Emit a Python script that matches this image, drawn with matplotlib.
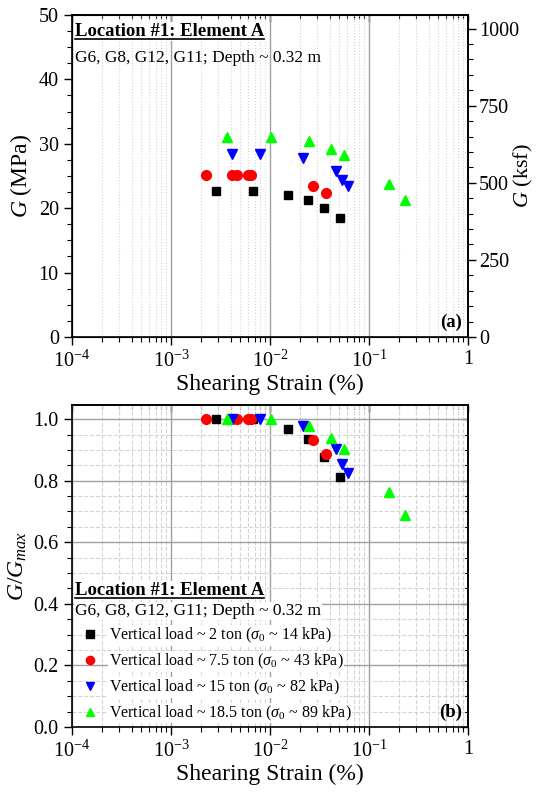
#!/usr/bin/env python3
import matplotlib
matplotlib.use("Agg")
import matplotlib.pyplot as plt
import matplotlib.ticker as mticker
import numpy as np

plt.rcParams["font.family"] = ["Liberation Serif", "DejaVu Serif"]
plt.rcParams["mathtext.fontset"] = "custom"
plt.rcParams["mathtext.rm"] = "Liberation Serif"
plt.rcParams["mathtext.it"] = "Liberation Serif:italic"
plt.rcParams["mathtext.bf"] = "Liberation Serif:bold"

# ---- data ----
strain_2 = [0.00283, 0.00668, 0.0153, 0.0244, 0.0354, 0.0506]
g_2 = [22.7, 22.7, 22.0, 21.3, 20.0, 18.4]
ratio_2 = [1.0, 1.0, 0.967, 0.936, 0.877, 0.811]

strain_7 = [0.00226, 0.0041, 0.00461, 0.0060, 0.00638, 0.0273, 0.0368]
g_7 = [25.2, 25.2, 25.2, 25.2, 25.2, 23.5, 22.3]
ratio_7 = [1.0, 1.0, 1.0, 1.0, 1.0, 0.933, 0.888]

strain_15 = [0.0041, 0.0079, 0.0214, 0.0461, 0.0537, 0.0609]
g_15 = [28.4, 28.4, 27.8, 25.8, 24.4, 23.4]
ratio_15 = [1.0, 1.0, 0.978, 0.902, 0.855, 0.824]

strain_18 = [0.00368, 0.0102, 0.0248, 0.0413, 0.0559, 0.160, 0.231]
g_18 = [31.1, 31.1, 30.4, 29.2, 28.2, 23.7, 21.3]
ratio_18 = [1.0, 1.0, 0.978, 0.940, 0.903, 0.764, 0.687]

labels = [
    r"Vertical load ~ 2 ton ($\sigma_0$ ~ 14 kPa)",
    r"Vertical load ~ 7.5 ton ($\sigma_0$ ~ 43 kPa)",
    r"Vertical load ~ 15 ton ($\sigma_0$ ~ 82 kPa)",
    r"Vertical load ~ 18.5 ton ($\sigma_0$ ~ 89 kPa)",
]
xtick_vals = [1e-4, 1e-3, 1e-2, 1e-1, 1]
xtick_labels = [r"$10^{-4}$", r"$10^{-3}$", r"$10^{-2}$", r"$10^{-1}$", "1"]
title = "Location #1: Element A"
subtitle = "G6, G8, G12, G11; Depth ~ 0.32 m"

MPA_PER_KSF = 0.04788

series = [
    (strain_2, g_2, ratio_2, "s", "black", 6),
    (strain_7, g_7, ratio_7, "o", "#ff0000", 7),
    (strain_15, g_15, ratio_15, "v", "#0000ff", 7),
    (strain_18, g_18, ratio_18, "^", "#00ff00", 7),
]

TICK_FS = 14.5
LABEL_FS = 17

fig = plt.figure(figsize=(5.4, 7.92), dpi=100)
ax1 = fig.add_axes([0.1333, 0.5745, 0.7333, 0.4066])
ax2 = fig.add_axes([0.1333, 0.0821, 0.7333, 0.4066])

minor_log = mticker.LogLocator(base=10, subs=np.arange(2, 10), numticks=20)


def style_x(ax):
    ax.set_xscale("log")
    ax.set_xlim(1e-4, 1)
    ax.set_xticks(xtick_vals)
    ax.set_xticklabels(xtick_labels)
    ax.xaxis.set_minor_locator(minor_log)
    ax.xaxis.set_minor_formatter(mticker.NullFormatter())
    ax.set_xlabel("Shearing Strain (%)", fontsize=LABEL_FS, labelpad=2)
    ax.tick_params(axis="both", which="major", labelsize=TICK_FS, length=6, width=1,
                   direction="out")
    ax.tick_params(axis="both", which="minor", length=3.5, width=0.8, direction="out")
    for s in ax.spines.values():
        s.set_linewidth(1.2)
    # inward ticks along the top spine
    top = ax.secondary_xaxis("top")
    top.set_xticks(xtick_vals)
    top.xaxis.set_minor_locator(minor_log)
    top.tick_params(which="major", direction="in", length=5, width=1, labeltop=False)
    top.tick_params(which="minor", direction="in", length=3, width=0.8)
    top.spines["top"].set_linewidth(1.2)


def underlined_text(ax, x, y, s, size):
    t = ax.text(x, y, s, transform=ax.transAxes, fontsize=size, fontweight="bold",
                ha="left", va="baseline", zorder=6,
                bbox=dict(facecolor="white", edgecolor="none", pad=0.5))
    fig.canvas.draw()
    bb = t.get_window_extent().transformed(ax.transAxes.inverted())
    ax.plot([bb.x0, bb.x1], [y - 0.01, y - 0.01], transform=ax.transAxes,
            color="black", lw=1.2, zorder=7, clip_on=False)
    return t


# ---- (a) G vs strain ----
style_x(ax1)
ax1.set_ylim(0, 50)
ax1.yaxis.set_major_locator(mticker.MultipleLocator(10))
ax1.yaxis.set_minor_locator(mticker.MultipleLocator(2.5))
ax1.set_ylabel(r"$G$ (MPa)", fontsize=LABEL_FS, labelpad=3)
ax1.grid(True, axis="x", which="major", color="#a0a0a0", lw=1.0, ls="-", zorder=0)
ax1.grid(True, axis="x", which="minor", color="#d4d4d4", lw=0.8, ls=":", zorder=0)
for xs, gs, _, m, c, ms in series:
    ax1.plot(xs, gs, ls="none", marker=m, color=c, ms=ms, zorder=3, clip_on=False)

ax1r = ax1.twinx()
ax1r.set_ylim(0, 50 / MPA_PER_KSF)
ax1r.yaxis.set_major_locator(mticker.MultipleLocator(250))
ax1r.yaxis.set_minor_locator(mticker.MultipleLocator(50))
ax1r.set_ylabel(r"$G$ (ksf)", fontsize=16, rotation=90, va="center")
ax1r.yaxis.set_label_coords(1.14, 0.5)
ax1r.tick_params(axis="y", which="major", labelsize=TICK_FS, length=6, width=1,
                 direction="out", pad=2)
ax1r.tick_params(axis="y", which="minor", length=3.5, width=0.8, direction="out")
ax1r.spines["right"].set_linewidth(1.2)

underlined_text(ax1, 0.008, 0.935, title, 13.5)
ax1.text(0.008, 0.855, subtitle, transform=ax1.transAxes, fontsize=12.5, ha="left",
         va="baseline")
ax1.text(0.985, 0.02, "(a)", transform=ax1.transAxes, fontsize=13.5, fontweight="bold",
         ha="right", va="bottom")

# ---- (b) G/Gmax vs strain ----
style_x(ax2)
ax2.set_ylim(0, 1.046)
ax2.yaxis.set_major_locator(mticker.MultipleLocator(0.2))
ax2.yaxis.set_minor_locator(mticker.MultipleLocator(0.05))
ax2.yaxis.set_major_formatter(mticker.FormatStrFormatter("%.1f"))
ax2.set_ylabel(r"$G/G_{max}$", fontsize=LABEL_FS, labelpad=3)
right = ax2.secondary_yaxis("right")
right.yaxis.set_major_locator(mticker.MultipleLocator(0.2))
right.yaxis.set_minor_locator(mticker.MultipleLocator(0.05))
right.tick_params(which="major", direction="in", length=5, width=1, labelright=False)
right.tick_params(which="minor", direction="in", length=3, width=0.8)
right.spines["right"].set_linewidth(1.2)
ax2.grid(True, which="major", color="#a0a0a0", lw=1.0, ls="-", zorder=0)
ax2.grid(True, which="minor", color="#d4d4d4", lw=0.8, ls="--", zorder=0)
handles = []
for (xs, _, rs, m, c, ms), lab in zip(series, labels):
    h, = ax2.plot(xs, rs, ls="none", marker=m, color=c, ms=ms, zorder=3, label=lab,
                  clip_on=False)
    handles.append(h)

leg = ax2.legend(handles=handles, loc="lower left", bbox_to_anchor=(0.0, -0.012),
                 frameon=False, fontsize=11.5, markerscale=0.85, handlelength=1.2,
                 handletextpad=0.6, labelspacing=0.42, borderaxespad=0.3,
                 borderpad=0.2)
for t in leg.get_texts():
    t.set_bbox(dict(facecolor="white", edgecolor="none", pad=0.5))
leg.set_zorder(5)

underlined_text(ax2, 0.008, 0.41, title, 13.5)
ax2.text(0.008, 0.348, subtitle, transform=ax2.transAxes, fontsize=12.5, ha="left",
         va="baseline", bbox=dict(facecolor="white", edgecolor="none", pad=0.5), zorder=6)
ax2.text(0.985, 0.02, "(b)", transform=ax2.transAxes, fontsize=13.5, fontweight="bold",
         ha="right", va="bottom")

fig.savefig("out.png", dpi=100)
